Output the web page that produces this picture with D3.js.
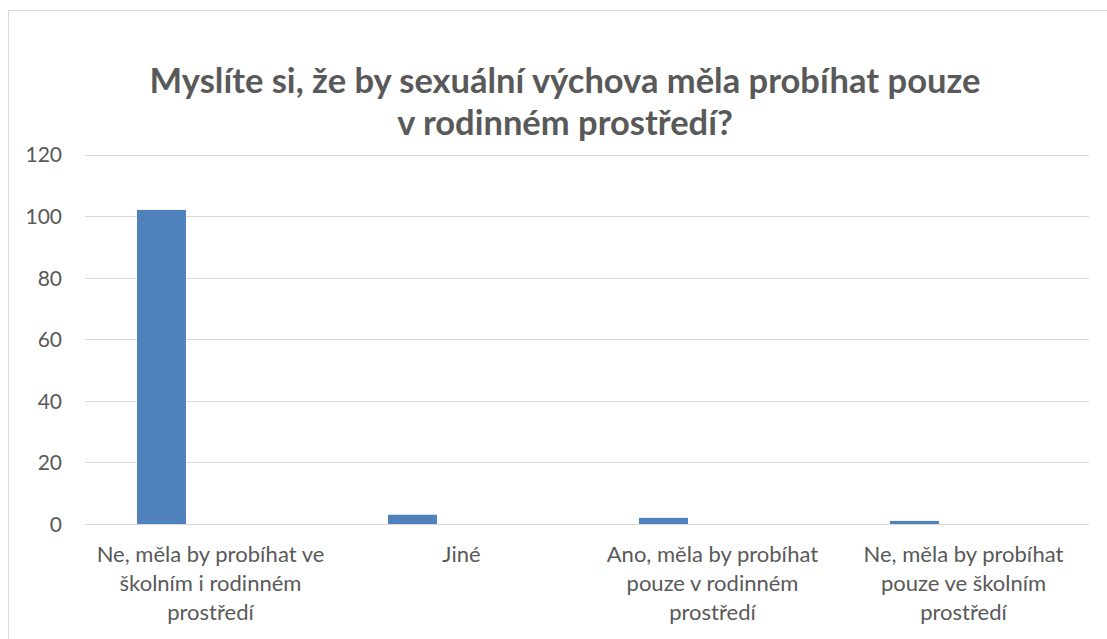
<!DOCTYPE html>
<html>
<head>
<meta charset="utf-8">
<script src="https://cdn.jsdelivr.net/npm/d3@7"></script>
<style>
  html, body { margin: 0; padding: 0; background: #fff; }
  svg { display: block; }
  text { font-family: Lato, "Open Sans", sans-serif; }
</style>
</head>
<body>
<svg id="chart" width="1107" height="639"></svg>
<script>
// ---- data ----
const titleLines = ["Myslíte si, že by sexuální výchova měla probíhat pouze", "v rodinném prostředí?"];
const categories = [
  "Ne, měla by probíhat ve školním i rodinném prostředí",
  "Jiné",
  "Ano, měla by probíhat pouze v rodinném prostředí",
  "Ne, měla by probíhat pouze ve školním prostředí"
];
const categoryLabelLines = [
  ["Ne, měla by probíhat ve", "školním i rodinném", "prostředí"],
  ["Jiné"],
  ["Ano, měla by probíhat", "pouze v rodinném", "prostředí"],
  ["Ne, měla by probíhat", "pouze ve školním", "prostředí"]
];
const values = [102, 3, 2, 1];
const yTicks = [0, 20, 40, 60, 80, 100, 120];

// ---- layout ----
const svg = d3.select("#chart");
const plot = { left: 85, right: 1089, top: 154.5, bottom: 524 };

// outer chart border
svg.append("rect")
  .attr("x", 8.5).attr("y", 10.5)
  .attr("width", 1130).attr("height", 660)
  .attr("fill", "#fff").attr("stroke", "#d9d9d9").attr("stroke-width", 1);

const x = d3.scaleBand().domain(categories).range([plot.left, plot.right]).padding(0);
const xBar = d3.scaleBand().domain(categories).range([plot.left, plot.right])
  .paddingInner(0.805).paddingOuter(0.4025).align(0.2574);
const y = d3.scaleLinear().domain([0, 120]).range([plot.bottom, plot.top]);

// gridlines
svg.append("g").selectAll("line").data(yTicks).join("line")
  .attr("x1", plot.left).attr("x2", plot.right)
  .attr("y1", d => Math.round(y(d)) + 0.5).attr("y2", d => Math.round(y(d)) + 0.5)
  .attr("stroke", "#d9d9d9").attr("stroke-width", 1);

// y axis labels
const yAxis = d3.axisLeft(y).tickValues(yTicks).tickSize(0).tickPadding(0);
const gy = svg.append("g").attr("transform", `translate(62,0)`).call(yAxis);
gy.select(".domain").remove();
gy.selectAll("text")
  .attr("fill", "#595959").attr("font-size", 21)
  .attr("font-family", "Lato, sans-serif").attr("dy", "0.35em");

// bars
svg.append("g").selectAll("rect").data(values).join("rect")
  .attr("x", (d, i) => xBar(categories[i]))
  .attr("width", xBar.bandwidth())
  .attr("y", d => y(d))
  .attr("height", d => y(0) - y(d))
  .attr("fill", "#4f81bd");

// category labels
const lab = svg.append("g");
categories.forEach((c, i) => {
  const cx = x(c) + x.bandwidth() / 2;
  const t = lab.append("text")
    .attr("x", cx)
    .attr("y", 562)
    .attr("text-anchor", "middle")
    .attr("fill", "#595959").attr("font-size", 22);
  categoryLabelLines[i].forEach((ln, j) => {
    t.append("tspan").attr("x", cx).attr("dy", j === 0 ? 0 : 29).text(ln);
  });
});

// title
const title = svg.append("text")
  .attr("text-anchor", "middle")
  .attr("fill", "#595959").attr("font-size", 34.5).attr("font-weight", "bold");
titleLines.forEach((ln, j) => {
  title.append("tspan").attr("x", 565).attr("y", 93 + j * 42).text(ln);
});
</script>
</body>
</html>
